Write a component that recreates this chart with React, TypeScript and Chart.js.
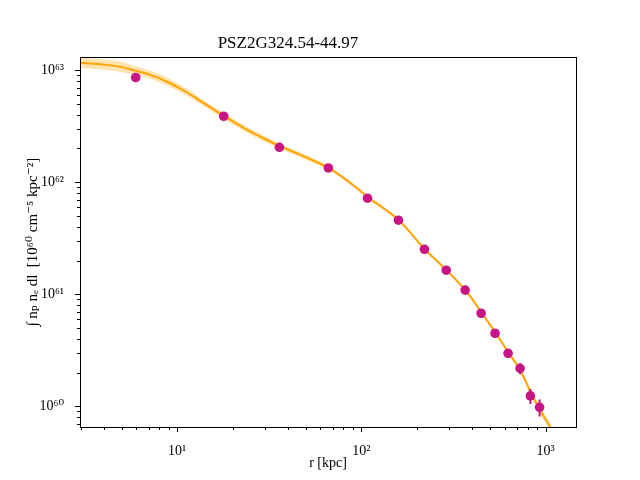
import React, { useEffect, useRef } from "react";
import { Chart, registerables } from "chart.js";

Chart.register(...registerables);

const titleText = "PSZ2G324.54-44.97";
const xLabel = "r [kpc]";
const yLabel = "∫ nₚ nₑ dl  [10⁶⁰ cm⁻⁵ kpc⁻²]";

// measured points
const dataR = [5.96, 17.9, 35.9, 66.2, 108, 159, 220, 289, 366, 447, 532, 626, 727, 827, 928];
const dataY = [8.59e62, 3.88e62, 2.05e62, 1.34e62, 7.2e61, 4.58e61, 2.52e61, 1.64e61, 1.09e61, 6.77e60, 4.49e60, 2.97e60, 2.18e60, 1.24e60, 9.8e59];
const dataErr = [3.0e61, 1.0e61, 4.0e60, 2.5e60, 1.5e60, 1.0e60, 6.0e59, 4.0e59, 3.0e59, 2.0e59, 1.5e59, 1.5e59, 2.5e59, 1.9e59, 1.7e59];

// best-fit model and its uncertainty band
const modelR = [2.9, 3.85, 4.94, 5.96, 7.18, 8.88, 11.1, 13.4, 17.9, 23.5, 28.4, 35.9, 46.7, 66.2, 87.1, 108, 159, 220, 289, 366, 447, 532, 626, 727, 834, 934, 1058, 1140];
const modelY = [1.165e63, 1.127e63, 1.07e63, 9.86e62, 9.08e62, 7.84e62, 6.45e62, 5.3e62, 3.91e62, 2.99e62, 2.54e62, 2.11e62, 1.754e62, 1.342e62, 9.86e61, 7.4e61, 4.61e61, 2.54e61, 1.648e61, 1.093e61, 6.95e60, 4.6e60, 3.05e60, 2.11e60, 1.315e60, 9.27e59, 6.53e59, 5.21e59];
const bandHi = [1.292e63, 1.25e63, 1.187e63, 1.082e63, 9.86e62, 8.52e62, 6.93e62, 5.64e62, 4.16e62, 3.18e62, 2.7e62, 2.22e62, 1.847e62, 1.398e62, 1.017e62, 7.63e61, 4.75e61, 2.62e61, 1.699e61, 1.127e61, 7.17e60, 4.74e60, 3.18e60, 2.22e60, 1.399e60, 9.97e59, 7.09e59, 5.72e59];
const bandLo = [1.05e63, 1.016e63, 9.65e62, 8.99e62, 8.36e62, 7.22e62, 6.0e62, 4.98e62, 3.67e62, 2.81e62, 2.39e62, 2.0e62, 1.666e62, 1.288e62, 9.56e61, 7.18e61, 4.47e61, 2.46e61, 1.598e61, 1.06e61, 6.74e60, 4.46e60, 2.93e60, 2.0e60, 1.236e60, 8.62e59, 6.01e59, 4.75e59];

// axes
const xMin = 2.97;
const xMax = 1463;
const yMin = 6.54e59;
const yMax = 1.3e63;
const xMajorTicks = [10, 100, 1000];
const xMinorTicks = [3, 4, 5, 6, 7, 8, 9, 20, 30, 40, 50, 60, 70, 80, 90, 200, 300, 400, 500, 600, 700, 800, 900];
const yMajorTicks = [1e60, 1e61, 1e62, 1e63];
const yMinorTicks = [7e59, 8e59, 9e59, 2e60, 3e60, 4e60, 5e60, 6e60, 7e60, 8e60, 9e60, 2e61, 3e61, 4e61, 5e61, 6e61, 7e61, 8e61, 9e61, 2e62, 3e62, 4e62, 5e62, 6e62, 7e62, 8e62, 9e62];

const SUP: Record<string, string> = { "0": "⁰", "1": "¹", "2": "²", "3": "³", "4": "⁴", "5": "⁵", "6": "⁶", "7": "⁷", "8": "⁸", "9": "⁹", "-": "⁻" };
const isMajor = (v: number) => {
  const e = Math.log10(v);
  return Math.abs(e - Math.round(e)) < 1e-6;
};
const powLabel = (v: number) => {
  if (!isMajor(v)) return "";
  const e = String(Math.round(Math.log10(v)));
  return "10" + e.split("").map((c) => SUP[c] || c).join("");
};

const POINT_COLOR = "#C71585";
const LINE_COLOR = "#FFA500";
const BAND_COLOR = "rgba(255,165,0,0.3)";
const FONT = "'Liberation Serif', 'DejaVu Serif', serif";

const errorBarPlugin = {
  id: "errorBars",
  beforeDatasetDraw(chart: any, args: any) {
    if (args.index !== 0) return;
    const { ctx, scales, chartArea } = chart;
    ctx.save();
    ctx.beginPath();
    ctx.rect(chartArea.left, chartArea.top, chartArea.right - chartArea.left, chartArea.bottom - chartArea.top);
    ctx.clip();
    ctx.strokeStyle = POINT_COLOR;
    ctx.lineWidth = 2;
    for (let i = 0; i < dataR.length; i++) {
      const px = scales.x.getPixelForValue(dataR[i]);
      const top = scales.y.getPixelForValue(dataY[i] + dataErr[i]);
      const bot = scales.y.getPixelForValue(Math.max(dataY[i] - dataErr[i], yMin * 0.5));
      ctx.beginPath();
      ctx.moveTo(px, top);
      ctx.lineTo(px, bot);
      ctx.stroke();
    }
    ctx.restore();
  },
};

const framePlugin = {
  id: "frame",
  afterDraw(chart: any) {
    const { ctx, chartArea: a, scales } = chart;
    ctx.save();
    ctx.strokeStyle = "#000";
    ctx.lineWidth = 1;
    const xs = scales.x;
    xs.ticks.forEach((t: any) => {
      const px = Math.round(xs.getPixelForValue(t.value)) + 0.5;
      const len = isMajor(t.value) ? 5 : 3;
      ctx.beginPath();
      ctx.moveTo(px, Math.round(a.bottom));
      ctx.lineTo(px, Math.round(a.bottom) + len);
      ctx.stroke();
    });
    const ys = scales.y;
    ys.ticks.forEach((t: any) => {
      const py = Math.round(ys.getPixelForValue(t.value)) + 0.5;
      const len = isMajor(t.value) ? 5 : 3;
      ctx.beginPath();
      ctx.moveTo(Math.round(a.left), py);
      ctx.lineTo(Math.round(a.left) - len, py);
      ctx.stroke();
    });
    ctx.strokeRect(Math.round(a.left) + 0.5, Math.round(a.top) + 0.5, Math.round(a.right) - Math.round(a.left), Math.round(a.bottom) - Math.round(a.top));
    ctx.restore();
  },
};

export default function App() {
  const ref = useRef<HTMLCanvasElement | null>(null);

  useEffect(() => {
    if (!ref.current) return;
    const points = dataR.map((r, i) => ({ x: r, y: dataY[i] }));
    const model = modelR.map((r, i) => ({ x: r, y: modelY[i] }));
    const lo = modelR.map((r, i) => ({ x: r, y: bandLo[i] }));
    const hi = modelR.map((r, i) => ({ x: r, y: bandHi[i] }));

    const chart = new Chart(ref.current, {
      type: "line",
      data: {
        datasets: [
          {
            label: "data",
            data: points,
            showLine: false,
            pointRadius: 4.8,
            pointHoverRadius: 4.8,
            pointBorderWidth: 0,
            pointBackgroundColor: POINT_COLOR,
            borderColor: POINT_COLOR,
            order: 0,
          },
          {
            label: "model",
            data: model,
            borderColor: LINE_COLOR,
            borderWidth: 2,
            pointRadius: 0,
            tension: 0.4,
            fill: false,
            order: 1,
          },
          {
            label: "lo",
            data: lo,
            borderWidth: 0,
            borderColor: "rgba(0,0,0,0)",
            pointRadius: 0,
            tension: 0.4,
            fill: false,
            order: 3,
          },
          {
            label: "hi",
            data: hi,
            borderWidth: 0,
            borderColor: "rgba(0,0,0,0)",
            backgroundColor: BAND_COLOR,
            pointRadius: 0,
            tension: 0.4,
            fill: "-1",
            order: 2,
          },
        ],
      },
      options: {
        animation: false,
        responsive: false,
        events: [],
        layout: { padding: { left: 0, right: 64, top: 0, bottom: 0 } },
        plugins: {
          legend: { display: false },
          tooltip: { enabled: false },
          title: {
            display: true,
            text: titleText,
            color: "#000",
            font: { family: FONT, size: 17, weight: "normal" },
            padding: { top: 33, bottom: 4 },
          },
        },
        scales: {
          x: {
            type: "logarithmic",
            min: xMin,
            max: xMax,
            afterBuildTicks: (s: any) => {
              s.ticks = [...xMinorTicks, ...xMajorTicks].sort((a, b) => a - b).map((v) => ({ value: v, major: isMajor(v) }));
            },
            afterFit: (s: any) => {
              s.height = 53;
            },
            grid: { display: false },
            border: { display: false },
            ticks: {
              autoSkip: false,
              maxRotation: 0,
              minRotation: 0,
              padding: 8,
              color: "#000",
              font: { family: FONT, size: 14 },
              callback: (v: any) => powLabel(Number(v)),
            },
            title: {
              display: true,
              text: xLabel,
              color: "#000",
              font: { family: FONT, size: 14 },
              padding: { top: 0, bottom: 8 },
            },
          },
          y: {
            type: "logarithmic",
            min: yMin,
            max: yMax,
            afterBuildTicks: (s: any) => {
              s.ticks = [...yMinorTicks, ...yMajorTicks].sort((a, b) => a - b).map((v) => ({ value: v, major: isMajor(v) }));
            },
            afterFit: (s: any) => {
              s.width = 80;
            },
            grid: { display: false },
            border: { display: false },
            ticks: {
              autoSkip: false,
              padding: 8,
              color: "#000",
              font: { family: FONT, size: 14 },
              callback: (v: any) => powLabel(Number(v)),
            },
            title: {
              display: true,
              text: yLabel,
              color: "#000",
              font: { family: FONT, size: 15 },
              padding: { top: 24, bottom: 0 },
            },
          },
        },
      },
      plugins: [errorBarPlugin, framePlugin],
    } as any);

    return () => chart.destroy();
  }, []);

  return (
    <div style={{ position: "absolute", left: 0, top: 0, width: 640, height: 480, background: "#fff" }}>
      <canvas ref={ref} width={640} height={480} style={{ width: 640, height: 480 }} />
    </div>
  );
}
